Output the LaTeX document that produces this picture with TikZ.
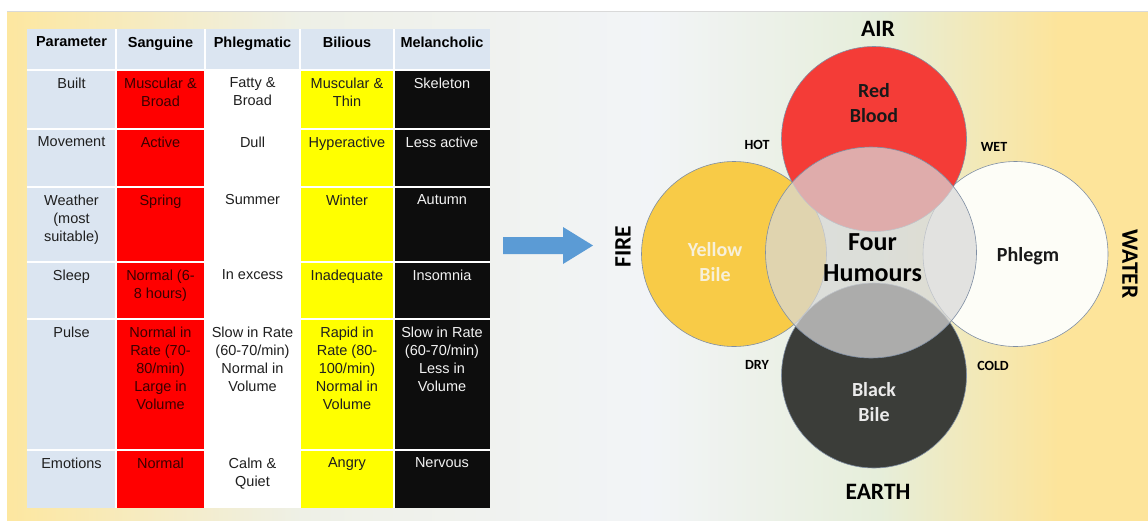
\documentclass[tikz,border=0pt]{standalone}
\usepackage{fontspec}
\setmainfont{Liberation Sans}
\newfontfamily\calfont{Carlito}
\definecolor{bgyel}{HTML}{FDE7A0}
\definecolor{bgyelr}{HTML}{FDE49A}
\definecolor{bgmid}{HTML}{EEF0E6}
\definecolor{bgwhite}{HTML}{F2F4F7}
\definecolor{bggreen}{HTML}{E6EEDA}
\definecolor{tblue}{HTML}{DBE5F1}
\definecolor{tred}{HTML}{FF0000}
\definecolor{tyel}{HTML}{FFFF00}
\definecolor{tblack}{HTML}{0D0D0D}
\definecolor{redtxt}{HTML}{3A0000}
\definecolor{hred}{HTML}{F43C37}
\definecolor{hyel}{HTML}{F8CB47}
\definecolor{hwhite}{HTML}{FDFDF7}
\definecolor{hblack}{HTML}{3B3D39}
\definecolor{hgrey}{HTML}{D8D8D8}
\definecolor{ringline}{HTML}{7F8EA3}
\definecolor{arrowblue}{HTML}{5B9BD5}
\definecolor{yeltxt}{HTML}{F7F0DA}
\begin{document}
\begin{tikzpicture}[x=1pt,y=-1pt,
  cell/.style={anchor=north, align=center, inner sep=0pt, font=\fontsize{14.5}{18}\selectfont, text=black!88},
  head/.style={cell, font=\bfseries\fontsize{14.5}{18}\selectfont, text=black},
  redcell/.style={cell, text=redtxt},
  blkcell/.style={cell, text=white!95!black},
  humour/.style={circle, minimum size=185pt, inner sep=0pt, draw=ringline, line width=0.6pt},
  hlabel/.style={align=center, inner sep=0pt, font=\calfont\bfseries\fontsize{20}{25}\selectfont},
  element/.style={inner sep=0pt, font=\calfont\bfseries\fontsize{23.5}{28}\selectfont},
  quality/.style={inner sep=0pt, font=\calfont\bfseries\fontsize{14}{17}\selectfont}
]
\useasboundingbox (0,0) rectangle (1148,520);
\fill[white] (-2,-2) rectangle (1150,522);
% background gradient
\fill[bgyelr] (7,11) rectangle (1152,524);
\shade[left color=bgyel, right color=bgmid] (7,11) rectangle (300.5,524);
\shade[left color=bgmid, right color=bgwhite] (300,11) rectangle (650.5,524);
\shade[left color=bgwhite, right color=bggreen] (650,11) rectangle (880.5,524);
\shade[left color=bggreen, right color=bgyelr] (880,11) rectangle (1060.5,524);
\draw[black!15, line width=0.8pt] (7,11) -- (1152,11);

% table
\fill[tblue] (27,29) rectangle (490,508);
\fill[tred] (116,70) rectangle (205,508);
\fill[white] (205,70) rectangle (300,508);
\fill[tyel] (300,70) rectangle (394,508);
\fill[tblack] (394,70) rectangle (490,508);
\foreach \xx in {116,205,300,394} \draw[white, line width=1.2pt] (\xx,29) -- (\xx,508);
\foreach \yy in {70,129,187,262,319,450} \draw[white, line width=1.2pt] (27,\yy) -- (490,\yy);

\node[head] (h1) at (71.5,36.5) {Parameter};
\node[head] (h2) at (160.5,36.5) {Sanguine};
\node[head] (h3) at (252.5,36.5) {Phlegmatic};
\node[head] (h4) at (347,36.5) {Bilious};
\node[head] (h5) at (442,36.5) {Melancholic};

\node[cell] (b1) at (71.5,77.5) {Built};
\node[redcell] (b2) at (160.5,77.5) {Muscular \&\\Broad};
\node[cell] (b3) at (252.5,77.5) {Fatty \&\\Broad};
\node[cell] (b4) at (347,77.5) {Muscular \&\\Thin};
\node[blkcell] (b5) at (442,77.5) {Skeleton};

\node[cell] (m1) at (71.5,136.5) {Movement};
\node[redcell] (m2) at (160.5,136.5) {Active};
\node[cell] (m3) at (252.5,136.5) {Dull};
\node[cell] (m4) at (347,136.5) {Hyperactive};
\node[blkcell] (m5) at (442,136.5) {Less active};

\node[cell] (w1) at (71.5,194.5) {Weather\\(most\\suitable)};
\node[redcell] (w2) at (160.5,194.5) {Spring};
\node[cell] (w3) at (252.5,194.5) {Summer};
\node[cell] (w4) at (347,194.5) {Winter};
\node[blkcell] (w5) at (442,194.5) {Autumn};

\node[cell] (s1) at (71.5,269.5) {Sleep};
\node[redcell] (s2) at (160.5,269.5) {Normal (6-\\8 hours)};
\node[cell] (s3) at (252.5,269.5) {In excess};
\node[cell] (s4) at (347,269.5) {Inadequate};
\node[blkcell] (s5) at (442,269.5) {Insomnia};

\node[cell] (p1) at (71.5,326.5) {Pulse};
\node[redcell] (p2) at (160.5,326.5) {Normal in\\Rate (70-\\80/min)\\Large in\\Volume};
\node[cell] (p3) at (252.5,326.5) {Slow in Rate\\(60-70/min)\\Normal in\\Volume};
\node[cell] (p4) at (347,326.5) {Rapid in\\Rate (80-\\100/min)\\Normal in\\Volume};
\node[blkcell] (p5) at (442,326.5) {Slow in Rate\\(60-70/min)\\Less in\\Volume};

\node[cell] (e1) at (71.5,457.5) {Emotions};
\node[redcell] (e2) at (160.5,457.5) {Normal};
\node[cell] (e3) at (252.5,457.5) {Calm \&\\Quiet};
\node[cell] (e4) at (347,457.5) {Angry};
\node[blkcell] (e5) at (442,457.5) {Nervous};

% block arrow
\fill[arrowblue] (503,237) -- (563,237) -- (563,227) -- (593,245.5) -- (563,264) -- (563,254) -- (503,254) -- cycle;

% humour circles
\node[humour, fill=hyel] (yellow) at (734,254) {};
\node[humour, fill=hwhite] (phlegm) at (1015.5,254) {};
\node[humour, fill=hred] (red) at (874,139) {};
\node[humour, fill=hblack] (black) at (874,375.5) {};
\node[circle, minimum size=211pt, inner sep=0pt, fill=hgrey, fill opacity=0.72, draw=ringline, line width=0.6pt] (four) at (871,252.5) {};

\node[hlabel, text=black!90] (redlbl) at (874,103.5) {Red\\Blood};
\node[hlabel, text=yeltxt] (yellbl) at (715,262) {Yellow\\Bile};
\node[hlabel, text=black!90] (phllbl) at (1028,256) {Phlegm};
\node[hlabel, text=white!92!black] (blklbl) at (874,402.5) {Black\\Bile};
\node[align=center, inner sep=0pt, font=\calfont\bfseries\fontsize{26}{31}\selectfont, text=black] (fourlbl) at (872.5,257.5) {Four\\Humours};

\node[element] (air) at (878,29) {AIR};
\node[element] (earth) at (878,492) {EARTH};
\node[element, rotate=90] (fire) at (623,246.5) {FIRE};
\node[element, rotate=-90] (water) at (1130,264) {WATER};

\node[quality] (hot) at (757,145) {HOT};
\node[quality] (wet) at (994,147) {WET};
\node[quality] (dry) at (757,365) {DRY};
\node[quality] (cold) at (993,366) {COLD};
\end{tikzpicture}
\end{document}
